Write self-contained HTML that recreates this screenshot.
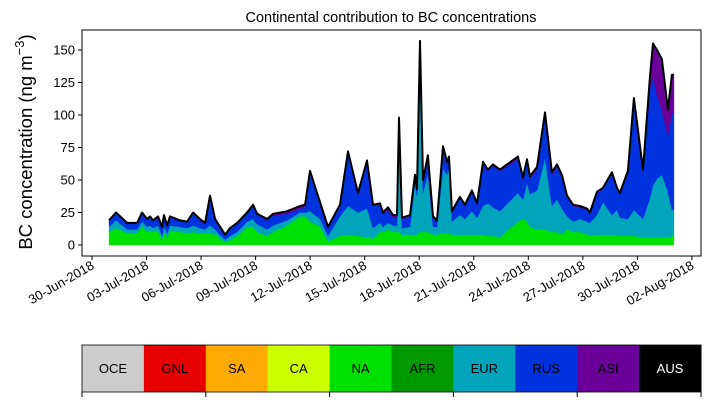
<!DOCTYPE html>
<html><head><meta charset="utf-8">
<style>
body{margin:0;background:#fff;}
svg{display:block;font-family:"Liberation Sans",sans-serif;}
</style></head>
<body>
<svg id="chart" width="710" height="402">
<text x="391" y="22" text-anchor="middle" font-size="14.5">Continental contribution to BC concentrations</text>
<text transform="translate(32,142) rotate(-90)" text-anchor="middle" font-size="18.5">BC concentration (ng m<tspan dy="-8" font-size="13">−3</tspan><tspan dy="8">)</tspan></text>
<g id="areas"></g>
<g id="axes"></g>
<g id="cbar"></g>
</svg>
<script>
const days=[0.94,1.32,1.93,2.48,2.75,3.03,3.19,3.36,3.63,3.85,3.96,4.13,4.29,4.84,5.23,5.56,5.94,6.22,6.49,6.77,7.32,7.59,7.98,8.53,8.86,9.08,9.63,9.96,10.73,11.44,11.72,11.99,12.54,12.98,13.64,14.08,14.63,15.13,15.46,15.84,16.01,16.28,16.56,16.78,16.89,17.05,17.49,17.77,17.88,18.04,18.21,18.48,18.76,18.98,19.31,19.53,19.64,19.80,20.24,20.52,20.90,21.18,21.51,21.78,22.06,22.44,23.43,23.71,23.93,24.09,24.48,24.92,25.30,25.58,25.85,26.13,26.46,26.84,27.23,27.39,27.78,28.11,28.60,28.88,29.04,29.48,29.81,30.31,30.69,30.86,31.08,31.35,31.68,31.90,32.01];
const naVals=[10,13,9,9,14,10,11,10,11,4,10,6,11,10,9,10,9,9,9,8,2,4,7,14,14,10,7,10,15,22,22,18,14,3,7,8,7,6,5,10,10,12,10,10,10,8,8,8,8,10,10,10,8,8,9,9,9,8,8,8,8,8,8,7,7,6,18,20,18,14,12,12,10,10,8,12,10,10,8,7,8,8,8,7,7,7,7,6,6,6,6,6,6,7,7];
const eurVals=[4,6,3,3,4,4,4,3,4,3,4,3,4,4,4,5,4,3,6,4,2,3,3,4,6,6,5,5,4,3,3,8,6,4,15,22,18,22,8,7,4,5,5,5,80,5,6,40,30,120,30,45,6,6,50,45,50,10,15,12,18,13,22,25,22,20,22,15,30,25,30,55,20,25,20,10,8,10,10,10,15,25,15,20,14,13,20,14,30,40,45,48,35,20,20];
const rusVals=[4.5,5.5,4.5,4.5,6.5,5.5,6.5,5.5,6.5,6.5,8.5,5.5,6.5,4.5,4.5,9,6,4,22,7,3.5,5.5,6.5,6,10,7,7,8,5,3,4,30,12,6.5,8,41,14,36,17,14,10,10,6,6,7,7,8,5,4,26,9,13,7,4,16,9,8,7,13,10,15,10,33,25,32,31,26,15,16,12,16,33,24,25,24,15,12,9,9,7,17,10,32,16,18,36,84,36,83,84,64,49,43,74,74];
const asiVals=[0.5,0.5,0.5,0.5,0.5,0.5,0.5,0.5,0.5,0.5,0.5,0.5,0.5,0.5,0.5,1,1,1,1,1,0.5,0.5,0.5,1,1,1,1,1,2,2,2,1,1,0.5,1,1,1,1,1,1,1,2,2,2,1,1,1,1,1,1,1,1,1,1,1,1,1,1,1,1,1,1,1,1,1,1,2,2,2,2,2,2,2,2,2,1,1,1,1,1,1,1,1,1,1,1,2,2,10,25,35,40,20,30,30];
const yTicks=[0,25,50,75,100,125,150];
const xTickLabels=["30-Jun-2018","03-Jul-2018","06-Jul-2018","09-Jul-2018","12-Jul-2018","15-Jul-2018","18-Jul-2018","21-Jul-2018","24-Jul-2018","27-Jul-2018","30-Jul-2018","02-Aug-2018"];
const xTickDays=[0,3,6,9,12,15,18,21,24,27,30,33];
const cbarLabels=["OCE","GNL","SA","CA","NA","AFR","EUR","RUS","ASI","AUS"];
const cbarColors=["#cccccc","#e60000","#ffaa00","#ccff00","#00e000","#009900","#00a5bb","#0033dd","#6a0099","#000000"];

const NS="http://www.w3.org/2000/svg";
const L=82,R=701,T=30,B=256;
const xMin=-0.55,xMax=33.5,yMin=-8.5,yMax=165.4;
const xs=d=>L+(d-xMin)/(xMax-xMin)*(R-L);
const ys=v=>B-(v-yMin)/(yMax-yMin)*(B-T);
function mk(tag,attrs,parent){const e=document.createElementNS(NS,tag);for(const k in attrs)e.setAttribute(k,attrs[k]);parent.appendChild(e);return e;}

const areas=document.getElementById('areas');
const layers=[["na",naVals,"#00e000"],["eur",eurVals,"#00a5bb"],["rus",rusVals,"#0033dd"],["asi",asiVals,"#6a0099"]];
let base=days.map(()=>0);
layers.forEach(([nm,vals,col])=>{
  const top=base.map((b,i)=>b+vals[i]);
  let d="M"+days.map((t,i)=>xs(t).toFixed(1)+","+ys(top[i]).toFixed(1)).join("L");
  for(let i=days.length-1;i>=0;i--) d+="L"+xs(days[i]).toFixed(1)+","+ys(base[i]).toFixed(1);
  const p=mk('path',{d:d+"Z",fill:col,stroke:col,'stroke-width':0.5},areas);
  
  
  base=top;
});
const tl=mk('polyline',{points:days.map((t,i)=>xs(t).toFixed(1)+","+ys(base[i]).toFixed(1)).join(" "),fill:"none",stroke:"#000","stroke-width":2,"stroke-linejoin":"round"},areas);



const ax=document.getElementById('axes');
const fr=mk('rect',{x:L,y:T,width:R-L,height:B-T,fill:"none",stroke:"#000","stroke-width":1},ax);


yTicks.forEach(v=>{
  const y=ys(v);
  mk('line',{x1:L-4,x2:L,y1:y,y2:y,stroke:"#000"},ax);
  const t=mk('text',{x:L-7,y:y+4.5,'text-anchor':'end','font-size':13},ax);
  t.textContent=v;
  
  
});
xTickDays.forEach((d,i)=>{
  const x=xs(d);
  mk('line',{x1:x,x2:x,y1:B,y2:B+4,stroke:"#000"},ax);
  const t=mk('text',{transform:`translate(${x+3},${B+12}) rotate(-30)`,'text-anchor':'end','font-size':13},ax);
  t.textContent=xTickLabels[i];
  
  
});

const cb=document.getElementById('cbar');
const cw=(R-L)/cbarLabels.length;
cbarLabels.forEach((lab,i)=>{
  const r=mk('rect',{x:L+i*cw,y:345,width:cw+0.5,height:47,fill:cbarColors[i]},cb);
  
  
  const t=mk('text',{x:L+i*cw+cw/2,y:373,'text-anchor':'middle','font-size':13,fill:lab==="AUS"?"#fff":"#000"},cb);
  t.textContent=lab;
  
  
});
mk('rect',{x:L,y:345,width:R-L,height:47,fill:"none",stroke:"#000","stroke-width":0.8},cb);
for(let i=0;i<=10;i+=2) mk('line',{x1:L+i*cw,x2:L+i*cw,y1:392,y2:397,stroke:"#000"},cb);
</script>
</body></html>
